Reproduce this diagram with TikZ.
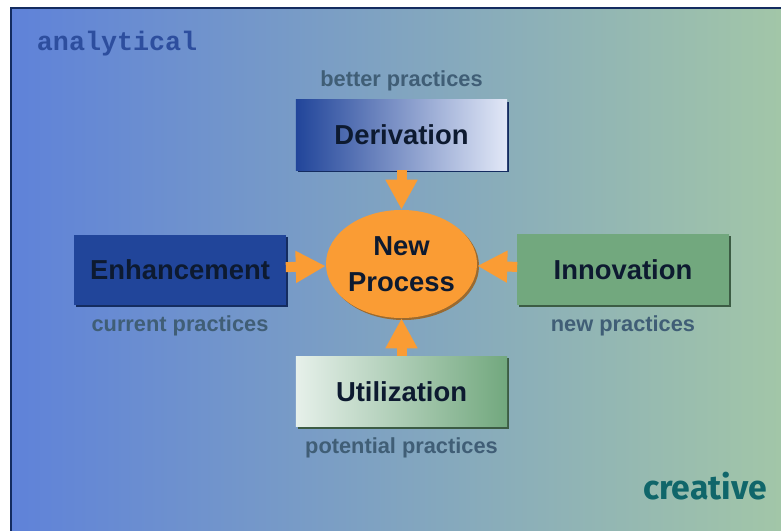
\documentclass[tikz,border=0pt]{standalone}
\usepackage{fontspec}
\setmainfont{Liberation Sans}
\newfontfamily\monofont{Liberation Mono}
\newfontfamily\creafont{Fira Sans}
\usetikzlibrary{positioning, shapes.geometric, shadows, arrows.meta}

\definecolor{bgleft}{HTML}{5F82D9}
\definecolor{bgright}{HTML}{A2C6A8}
\definecolor{navy}{HTML}{21459A}
\definecolor{navydark}{HTML}{142C60}
\definecolor{paleblue}{HTML}{E2E8F7}
\definecolor{sage}{HTML}{72A87E}
\definecolor{sagedark}{HTML}{3C5C44}
\definecolor{palegreen}{HTML}{E6F0EA}
\definecolor{orng}{HTML}{FA9C34}
\definecolor{orngdark}{HTML}{9A6A30}
\definecolor{txtdark}{HTML}{0D1A30}
\definecolor{lblgrey}{HTML}{405E76}
\definecolor{anablue}{HTML}{2D4E9E}
\definecolor{teal}{HTML}{10666A}

\tikzset{
  box/.style={rectangle, minimum width=5.275cm, minimum height=1.75cm, inner sep=0pt,
    text=txtdark, font=\fontsize{19.5}{22}\selectfont\bfseries},
  lbl/.style={text=lblgrey, inner sep=0pt, font=\fontsize{15.5}{18}\selectfont\bfseries},
  flow/.style={draw=orng, line width=0.25cm, -{Triangle[width=0.75cm, length=0.75cm]}},
}

\begin{document}
\begin{tikzpicture}[x=0.025cm, y=-0.025cm]
    \useasboundingbox (0,0) rectangle (781,531);
    % background panel
    \shade[left color=bgleft, right color=bgright] (11,8) rectangle (781,531);
    \draw[navydark, line width=0.04cm] (11,531) -- (11,8) -- (781,8);

    \node[anchor=west, text=anablue, font=\fontsize{19}{22}\selectfont\monofont\bfseries] (ana) at (32,44) {analytical};
    \node[text=teal, font=\fontsize{24}{28}\selectfont\creafont\bfseries] (crea) at (705,486) {creative};

    % centre
    \node[ellipse, fill=orng, minimum width=3.775cm, minimum height=2.7cm, inner sep=0pt,
      drop shadow={shadow xshift=0.05cm, shadow yshift=-0.05cm, fill=orngdark, opacity=1},
      text=txtdark, font=\fontsize{19.5}{22}\selectfont\bfseries, align=center] (proc) at (401.5,264) {New\\[4pt]Process};

    % the four sources
    \node[box, left color=navy, right color=paleblue,
      drop shadow={shadow xshift=0.05cm, shadow yshift=-0.05cm, fill=navydark, opacity=1}] (deriv) at (401.5,135) {Derivation};
    \node[box, fill=navy,
      drop shadow={shadow xshift=0.05cm, shadow yshift=-0.05cm, fill=navydark, opacity=1}] (enh) at (180,270) {Enhancement};
    \node[box, fill=sage,
      drop shadow={shadow xshift=0.05cm, shadow yshift=-0.05cm, fill=sagedark, opacity=1}] (innov) at (623,269.5) {Innovation};
    \node[box, left color=palegreen, right color=sage,
      drop shadow={shadow xshift=0.05cm, shadow yshift=-0.05cm, fill=sagedark, opacity=1}] (util) at (401.5,391.5) {Utilization};

    \node[lbl, above=0.2cm of deriv] (better) {better practices};
    \node[lbl, below=0.26cm of enh] (current) {current practices};
    \node[lbl, below=0.26cm of innov] (new) {new practices};
    \node[lbl, below=0.26cm of util] (potential) {potential practices};

    \draw[flow] (deriv) -- (proc);
    \draw[flow] (enh) -- (proc);
    \draw[flow] (innov) -- (proc);
    \draw[flow] (util) -- (proc);

\end{tikzpicture}
\end{document}
